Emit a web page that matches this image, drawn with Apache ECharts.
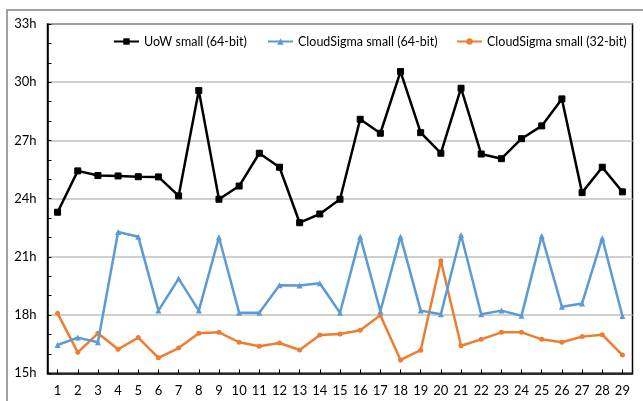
<!DOCTYPE html>
<html><head><meta charset="utf-8">
<script src="https://cdn.jsdelivr.net/npm/echarts@6/dist/echarts.min.js"></script>
<style>html,body{margin:0;padding:0;background:#fff}#c{width:643px;height:401px}</style>
</head><body><div id="c"></div>
<script>
const categories = ['1','2','3','4','5','6','7','8','9','10','11','12','13','14','15','16','17','18','19','20','21','22','23','24','25','26','27','28','29'];
const uowSmall64 = [23.3,25.43,25.19,25.17,25.13,25.12,24.14,29.57,23.97,24.65,26.34,25.62,22.76,23.21,23.97,28.09,27.37,30.55,27.4,26.34,29.69,26.3,26.06,27.09,27.75,29.14,24.31,25.62,24.35];
const csSmall64 = [16.46,16.84,16.6,22.28,22.04,18.23,19.88,18.23,22.01,18.12,18.12,19.54,19.53,19.64,18.12,22.04,18.2,22.04,18.23,18.04,22.13,18.04,18.23,17.97,22.08,18.43,18.6,21.96,17.95];
const csSmall32 = [18.09,16.08,17.06,16.24,16.84,15.8,16.3,17.06,17.11,16.6,16.39,16.56,16.2,16.97,17.03,17.22,17.99,15.69,16.19,20.8,16.42,16.75,17.11,17.11,16.75,16.6,16.89,16.99,15.94];
const seriesNames = ['UoW small (64-bit)','CloudSigma small (64-bit)','CloudSigma small (32-bit)'];
const yMin = 15, yMax = 33, yStep = 3;

const FONT = 'Lato';
const chart = echarts.init(document.getElementById('c'));
const legendBase = {top: 35, padding: 0, itemWidth: 25, itemHeight: 8, itemGap: 0,
  textStyle: {fontFamily: FONT, fontSize: 12.5, color: '#000'}};
chart.setOption({
  animation: false,
  graphic: [{type: 'rect', shape: {x: 7, y: 10, width: 800, height: 600}, style: {fill: 'none', stroke: '#a0a0a0', lineWidth: 2}, z: -10}],
  legend: [
    Object.assign({left: 113, data: [seriesNames[0]]}, legendBase),
    Object.assign({left: 267, data: [seriesNames[1]]}, legendBase),
    Object.assign({left: 456, data: [seriesNames[2]]}, legendBase)
  ],
  grid: {left: 47.5, right: 10.5, top: 24, bottom: 27.7, show: true, borderColor: '#000', borderWidth: 1.5},
  xAxis: {type: 'category', data: categories, boundaryGap: true,
    axisLine: {lineStyle: {color: '#000', width: 1.5}},
    axisTick: {show: true, inside: true, alignWithLabel: true, length: 4, lineStyle: {color: '#000'}},
    axisLabel: {fontFamily: FONT, fontSize: 13, color: '#000', margin: 11}},
  yAxis: {type: 'value', min: yMin, max: yMax, interval: yStep,
    axisLine: {show: true, lineStyle: {color: '#000', width: 1.5}},
    axisTick: {show: true, inside: true, length: 4, lineStyle: {color: '#000'}},
    minorTick: {show: true, splitNumber: 3, length: 4, lineStyle: {color: '#000'}},
    splitLine: {lineStyle: {color: '#c0c0c0', width: 1.5}},
    axisLabel: {fontFamily: FONT, fontSize: 13, color: '#000', margin: 11, formatter: v => v + 'h'}},
  series: [
    {name: seriesNames[0], type: 'line', data: uowSmall64, symbol: 'rect', symbolSize: 6, z: 5,
      lineStyle: {color: '#000', width: 2.5}, itemStyle: {color: '#000', borderColor: '#000'}},
    {name: seriesNames[1], type: 'line', data: csSmall64, symbol: 'triangle', symbolSize: 6, z: 4,
      lineStyle: {color: '#5b9bd5', width: 2.5}, itemStyle: {color: '#5b9bd5'}},
    {name: seriesNames[2], type: 'line', data: csSmall32, symbol: 'circle', symbolSize: 5, z: 3,
      lineStyle: {color: '#ed7d31', width: 2.5}, itemStyle: {color: '#ed7d31'}}
  ]
});
</script></body></html>
